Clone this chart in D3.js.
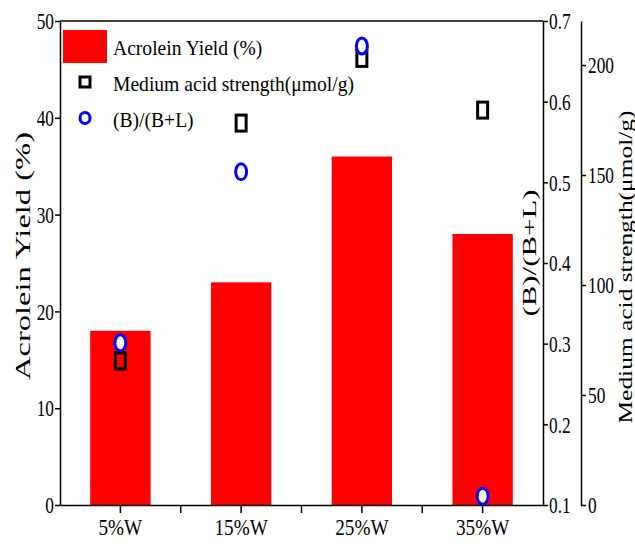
<!DOCTYPE html>
<html>
<head>
<meta charset="utf-8">
<script src="https://cdn.jsdelivr.net/npm/d3@7"></script>
<style>
body { margin: 0; background: #fff; }
svg { display: block; }
text { font-family: "Liberation Serif", "Times New Roman", serif; fill: #000; }
</style>
</head>
<body>
<div id="chart"></div>
<script>
// data
const categories = ["5%W", "15%W", "25%W", "35%W"];
const yieldVals = [18, 23, 36, 28];              // Acrolein Yield (%)
const acidVals = [65.5, 173.6, 203, 179.5];      // Medium acid strength (umol/g)
const bblVals = [0.301, 0.513, 0.669, 0.111];    // (B)/(B+L)
const yieldTicks = [0, 10, 20, 30, 40, 50];
const bblTicks = [0.1, 0.2, 0.3, 0.4, 0.5, 0.6, 0.7];
const acidTicks = [0, 50, 100, 150, 200];
const legendLabels = ["Acrolein Yield (%)", "Medium acid strength(\u03bcmol/g)", "(B)/(B+L)"];

//sizing
const width = 635, height = 548;
const plot = { left: 60, right: 543, top: 21, bottom: 505 };
const axis2X = 581;
const serif = '"Liberation Serif", "Times New Roman", serif';

const svg = d3.select("#chart").append("svg")
    .attr("width", width)
    .attr("height", height);

const x = d3.scaleBand()
    .domain(categories)
    .range([plot.left, plot.right])
    .paddingInner(0.5)
    .paddingOuter(0.25);

const y = d3.scaleLinear().domain([0, 50]).range([plot.bottom, plot.top]);
const yB = d3.scaleLinear().domain([0.1, 0.7]).range([plot.bottom, plot.top]);
const yA = d3.scaleLinear().domain([0, 220]).range([plot.bottom, plot.top]);

//squeeze text sideways like the picture
function squeeze(sel, k) {
    sel.each(function() {
        const L = this.getComputedTextLength();
        d3.select(this).attr("textLength", L * k).attr("lengthAdjust", "spacingAndGlyphs");
    });
}

//bars
svg.selectAll(".bar")
    .data(yieldVals)
    .enter()
    .append("rect")
        .attr("x", (d, i) => x(categories[i]))
        .attr("y", d => y(d))
        .attr("width", x.bandwidth())
        .attr("height", d => y(0) - y(d))
        .attr("fill", "#ff0000");

//top frame line
svg.append("line")
    .attr("x1", plot.left).attr("x2", plot.right)
    .attr("y1", plot.top).attr("y2", plot.top)
    .attr("stroke", "#000").attr("stroke-width", 1.5);

//axes
const gLeft = svg.append("g")
    .attr("transform", `translate(${plot.left},0)`)
    .call(d3.axisLeft(y).tickValues(yieldTicks).tickSize(5).tickPadding(1).tickSizeOuter(0));

const gRight = svg.append("g")
    .attr("transform", `translate(${plot.right},0)`)
    .call(d3.axisRight(yB).tickValues(bblTicks).tickFormat(d3.format(".1f")).tickSize(5).tickPadding(1).tickSizeOuter(0));

const gRight2 = svg.append("g")
    .attr("transform", `translate(${axis2X},0)`)
    .call(d3.axisRight(yA).tickValues(acidTicks).tickFormat(d3.format("d")).tickSize(5).tickPadding(2).tickSizeOuter(0));

const gBottom = svg.append("g")
    .attr("transform", `translate(0,${plot.bottom})`)
    .call(d3.axisBottom(x).tickSize(8).tickPadding(5).tickSizeOuter(0));

//minor ticks between categories
gBottom.selectAll(".minor")
    .data(categories.slice(1))
    .enter()
    .append("line")
        .attr("x1", d => x(d) - x.step() * x.paddingInner() / 2)
        .attr("x2", d => x(d) - x.step() * x.paddingInner() / 2)
        .attr("y1", 0).attr("y2", 8)
        .attr("stroke", "#000").attr("stroke-width", 1.5);

[gLeft, gRight, gRight2, gBottom].forEach(g => {
    g.attr("font-family", serif).attr("font-size", 24);
    g.select(".domain").attr("stroke", "#000").attr("stroke-width", 1.5);
    g.selectAll(".tick line").attr("stroke", "#000").attr("stroke-width", 1.5);
    g.selectAll("text").style("font-family", serif).style("font-size", "24px");
});
[gLeft, gRight, gRight2].forEach(g => squeeze(g.selectAll(".tick text"), 0.72));
squeeze(gBottom.selectAll(".tick text"), 0.8);

//points: medium acid strength squares
svg.selectAll(".acid")
    .data(acidVals)
    .enter()
    .append("rect")
        .attr("x", (d, i) => x(categories[i]) + x.bandwidth() / 2 - 5)
        .attr("y", d => yA(d) - 8)
        .attr("width", 10)
        .attr("height", 16)
        .attr("fill", "none")
        .attr("stroke", "#000")
        .attr("stroke-width", 3);

//points: (B)/(B+L) circles
svg.selectAll(".bbl")
    .data(bblVals)
    .enter()
    .append("ellipse")
        .attr("cx", (d, i) => x(categories[i]) + x.bandwidth() / 2)
        .attr("cy", d => yB(d))
        .attr("rx", 5.5)
        .attr("ry", 8)
        .attr("fill", "#fff")
        .attr("stroke", "#0000ff")
        .attr("stroke-width", 3);

//axis titles
svg.append("text")
    .attr("transform", "translate(30,256) rotate(-90)")
    .attr("text-anchor", "middle")
    .style("font-size", "20px")
    .attr("textLength", 248).attr("lengthAdjust", "spacingAndGlyphs")
    .text("Acrolein Yield (%)");

svg.append("text")
    .attr("transform", "translate(536,253) rotate(-90)")
    .attr("text-anchor", "middle")
    .style("font-size", "19px")
    .attr("textLength", 127).attr("lengthAdjust", "spacingAndGlyphs")
    .text("(B)/(B+L)");

svg.append("text")
    .attr("transform", "translate(632,267) rotate(-90)")
    .attr("text-anchor", "middle")
    .style("font-size", "19px")
    .attr("textLength", 313).attr("lengthAdjust", "spacingAndGlyphs")
    .text("Medium acid strength(\u03bcmol/g)");

//legend
const lg = svg.append("g");
lg.append("rect")
    .attr("x", 63).attr("y", 30)
    .attr("width", 44).attr("height", 33)
    .attr("fill", "#ff0000");
lg.append("rect")
    .attr("x", 80).attr("y", 77)
    .attr("width", 10).attr("height", 10)
    .attr("fill", "none").attr("stroke", "#000").attr("stroke-width", 3);
lg.append("ellipse")
    .attr("cx", 85).attr("cy", 118)
    .attr("rx", 5).attr("ry", 5.5)
    .attr("fill", "#fff").attr("stroke", "#0000ff").attr("stroke-width", 3);

const legendText = lg.selectAll(".lt")
    .data(legendLabels)
    .enter()
    .append("text")
        .attr("x", 113)
        .attr("y", (d, i) => 55 + i * 36)
        .style("font-size", "22px")
        .text(d => d);
squeeze(legendText, 0.89);
</script>
</body>
</html>
